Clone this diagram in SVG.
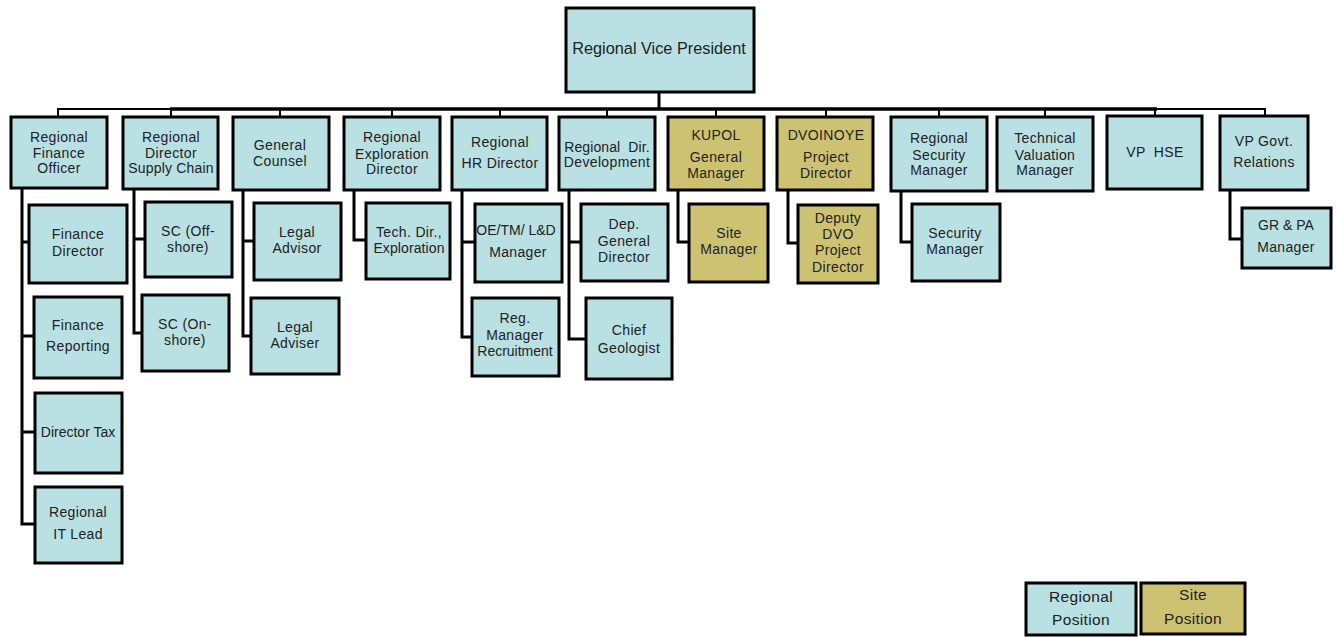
<svg xmlns="http://www.w3.org/2000/svg" width="1336" height="637" viewBox="0 0 1336 637">
  <style>
    .box rect { stroke: #000; stroke-width: 3; }
    .reg rect { fill: #b9e0e3; }
    .site rect { fill: #cdc272; }
    text { font-family: "Liberation Sans", Arial, sans-serif; font-size: 14px; fill: #222; text-anchor: middle; letter-spacing: 0.35px; white-space: pre; }
    .big { font-size: 16.3px; letter-spacing: 0px; }
    .leg { font-size: 15.5px; }
    .conn line, .conn polyline { stroke: #000; fill: none; stroke-linejoin: miter; }
    .thin { stroke-width: 2; }
    .thick { stroke-width: 3; }
  </style>
  <rect width="1336" height="637" fill="#fff"/>

  <!-- connectors -->
  <g class="conn" id="connectors">
    <line class="thick" x1="659" y1="92" x2="659" y2="109"/>
    <polyline class="thin" points="58,117 58,109 1265,109 1265,116"/>
    <line class="thick" x1="170" y1="109" x2="1157" y2="109" style="stroke-width:3.5"/>
    <line class="thin" x1="171" y1="109" x2="171" y2="117"/>
    <line class="thin" x1="280" y1="109" x2="280" y2="117"/>
    <line class="thin" x1="392" y1="109" x2="392" y2="117"/>
    <line class="thin" x1="500" y1="109" x2="500" y2="117"/>
    <line class="thin" x1="607" y1="109" x2="607" y2="117"/>
    <line class="thin" x1="716" y1="109" x2="716" y2="117"/>
    <line class="thin" x1="826" y1="109" x2="826" y2="117"/>
    <line class="thin" x1="939" y1="109" x2="939" y2="117"/>
    <line class="thin" x1="1045" y1="109" x2="1045" y2="117"/>
    <line class="thin" x1="1155" y1="109" x2="1155" y2="116"/>

    <!-- finance branch -->
    <polyline class="thick" points="22,188 22,524 35,524"/>
    <line class="thick" x1="22" y1="242" x2="29" y2="242"/>
    <line class="thick" x1="22" y1="336" x2="34" y2="336"/>
    <line class="thick" x1="22" y1="432" x2="35" y2="432"/>
    <!-- supply chain branch -->
    <polyline class="thick" points="134,189 134,333 142,333"/>
    <line class="thick" x1="134" y1="239" x2="145" y2="239"/>
    <!-- legal branch -->
    <polyline class="thick" points="243,190 243,336 251,336"/>
    <line class="thick" x1="243" y1="241" x2="254" y2="241"/>
    <!-- exploration branch -->
    <polyline class="thick" points="354,190 354,240 366,240"/>
    <!-- HR branch -->
    <polyline class="thick" points="462,190 462,337 472,337"/>
    <line class="thick" x1="462" y1="242" x2="475" y2="242"/>
    <!-- development branch -->
    <polyline class="thick" points="569,190 569,339 586,339"/>
    <line class="thick" x1="569" y1="242" x2="581" y2="242"/>
    <!-- KUPOL branch -->
    <polyline class="thick" points="678,190 678,242 689,242"/>
    <!-- DVOINOYE branch -->
    <polyline class="thick" points="788,190 788,243 798,243"/>
    <!-- security branch -->
    <polyline class="thick" points="901,191 901,242 912,242"/>
    <!-- govt relations branch -->
    <polyline class="thick" points="1230,190 1230,239 1242,239"/>
  </g>

  <g id="n-rvp" class="box reg">
    <rect x="566" y="8" width="188" height="84"/>
    <text class="big" x="659" y="54">Regional Vice President</text>
  </g>

  <!-- first level -->
  <g id="n-rfo" class="box reg">
    <rect x="11" y="117" width="96" height="71"/>
    <text x="59" y="142">Regional</text><text x="59" y="158">Finance</text><text x="59" y="173">Officer</text>
  </g>
  <g id="n-rdsc" class="box reg">
    <rect x="123" y="117" width="95" height="72"/>
    <text x="171" y="142">Regional</text><text x="171" y="158">Director</text><text x="171" y="173" style="letter-spacing:0.2px">Supply Chain</text>
  </g>
  <g id="n-gc" class="box reg">
    <rect x="233" y="117" width="96" height="73"/>
    <text x="280" y="150">General</text><text x="280" y="166">Counsel</text>
  </g>
  <g id="n-red" class="box reg">
    <rect x="344" y="117" width="96" height="73"/>
    <text x="392" y="142">Regional</text><text x="392" y="159">Exploration</text><text x="392" y="174">Director</text>
  </g>
  <g id="n-hr" class="box reg">
    <rect x="452" y="117" width="95" height="73"/>
    <text x="500" y="147">Regional</text><text x="500" y="168">HR Director</text>
  </g>
  <g id="n-dev" class="box reg">
    <rect x="559" y="117" width="96" height="73"/>
    <text x="607" y="152" style="letter-spacing:0.1px">Regional  Dir.</text><text x="607" y="167">Development</text>
  </g>
  <g id="n-kupol" class="box site">
    <rect x="668" y="117" width="96" height="73"/>
    <text x="716" y="140">KUPOL</text><text x="716" y="162">General</text><text x="716" y="178">Manager</text>
  </g>
  <g id="n-dvo" class="box site">
    <rect x="777" y="117" width="96" height="73"/>
    <text x="826" y="140">DVOINOYE</text><text x="826" y="162">Project</text><text x="826" y="178">Director</text>
  </g>
  <g id="n-rsm" class="box reg">
    <rect x="891" y="117" width="96" height="74"/>
    <text x="939" y="143">Regional</text><text x="939" y="160">Security</text><text x="939" y="175">Manager</text>
  </g>
  <g id="n-tvm" class="box reg">
    <rect x="997" y="117" width="96" height="74"/>
    <text x="1045" y="143">Technical</text><text x="1045" y="160">Valuation</text><text x="1045" y="175">Manager</text>
  </g>
  <g id="n-hse" class="box reg">
    <rect x="1107" y="116" width="95" height="73"/>
    <text x="1155" y="157">VP  HSE</text>
  </g>
  <g id="n-govt" class="box reg">
    <rect x="1220" y="116" width="88" height="74"/>
    <text x="1264" y="146">VP Govt.</text><text x="1264" y="167">Relations</text>
  </g>

  <!-- second level -->
  <g id="n-fd" class="box reg">
    <rect x="29" y="205" width="98" height="78"/>
    <text x="78" y="239">Finance</text><text x="78" y="256">Director</text>
  </g>
  <g id="n-fr" class="box reg">
    <rect x="34" y="297" width="88" height="81"/>
    <text x="78" y="330">Finance</text><text x="78" y="351">Reporting</text>
  </g>
  <g id="n-tax" class="box reg">
    <rect x="35" y="393" width="87" height="80"/>
    <text x="78" y="437" style="letter-spacing:0px">Director Tax</text>
  </g>
  <g id="n-it" class="box reg">
    <rect x="35" y="487" width="87" height="76"/>
    <text x="78" y="517">Regional</text><text x="78" y="539">IT Lead</text>
  </g>
  <g id="n-sco" class="box reg">
    <rect x="145" y="202" width="87" height="75"/>
    <text x="188" y="236">SC (Off-</text><text x="188" y="252">shore)</text>
  </g>
  <g id="n-scn" class="box reg">
    <rect x="142" y="295" width="87" height="76"/>
    <text x="185" y="329">SC (On-</text><text x="185" y="345">shore)</text>
  </g>
  <g id="n-la1" class="box reg">
    <rect x="254" y="203" width="87" height="77"/>
    <text x="297" y="237">Legal</text><text x="297" y="253">Advisor</text>
  </g>
  <g id="n-la2" class="box reg">
    <rect x="251" y="298" width="88" height="76"/>
    <text x="295" y="332">Legal</text><text x="295" y="348">Adviser</text>
  </g>
  <g id="n-tde" class="box reg">
    <rect x="366" y="203" width="84" height="76"/>
    <text x="409" y="237">Tech. Dir.,</text><text x="409" y="253" style="letter-spacing:0.1px">Exploration</text>
  </g>
  <g id="n-oe" class="box reg">
    <rect x="475" y="204" width="87" height="78"/>
    <text x="516" y="235" style="letter-spacing:0px">OE/TM/ L&amp;D</text><text x="518" y="257">Manager</text>
  </g>
  <g id="n-rec" class="box reg">
    <rect x="472" y="298" width="87" height="78"/>
    <text x="515" y="323">Reg.</text><text x="515" y="340">Manager</text><text x="515" y="356" style="letter-spacing:0px">Recruitment</text>
  </g>
  <g id="n-dgd" class="box reg">
    <rect x="581" y="204" width="87" height="77"/>
    <text x="624" y="229">Dep.</text><text x="624" y="246">General</text><text x="624" y="262">Director</text>
  </g>
  <g id="n-geo" class="box reg">
    <rect x="586" y="298" width="86" height="81"/>
    <text x="629" y="335">Chief</text><text x="629" y="353">Geologist</text>
  </g>
  <g id="n-site" class="box site">
    <rect x="689" y="204" width="79" height="78"/>
    <text x="729" y="238">Site</text><text x="729" y="254">Manager</text>
  </g>
  <g id="n-ddvo" class="box site">
    <rect x="798" y="205" width="80" height="78"/>
    <text x="838" y="223">Deputy</text><text x="838" y="239">DVO</text><text x="838" y="255">Project</text><text x="838" y="272">Director</text>
  </g>
  <g id="n-sec" class="box reg">
    <rect x="912" y="204" width="88" height="77"/>
    <text x="955" y="238">Security</text><text x="955" y="254">Manager</text>
  </g>
  <g id="n-grpa" class="box reg">
    <rect x="1242" y="208" width="89" height="60"/>
    <text x="1286" y="230" style="letter-spacing:0px">GR &amp; PA</text><text x="1286" y="252">Manager</text>
  </g>

  <!-- legend -->
  <g id="legend-regional" class="box reg">
    <rect x="1026" y="583" width="110" height="52"/>
    <text class="leg" x="1081" y="602">Regional</text><text class="leg" x="1081" y="625">Position</text>
  </g>
  <g id="legend-site" class="box site">
    <rect x="1141" y="583" width="104" height="51"/>
    <text class="leg" x="1193" y="600">Site</text><text class="leg" x="1193" y="624">Position</text>
  </g>
</svg>
